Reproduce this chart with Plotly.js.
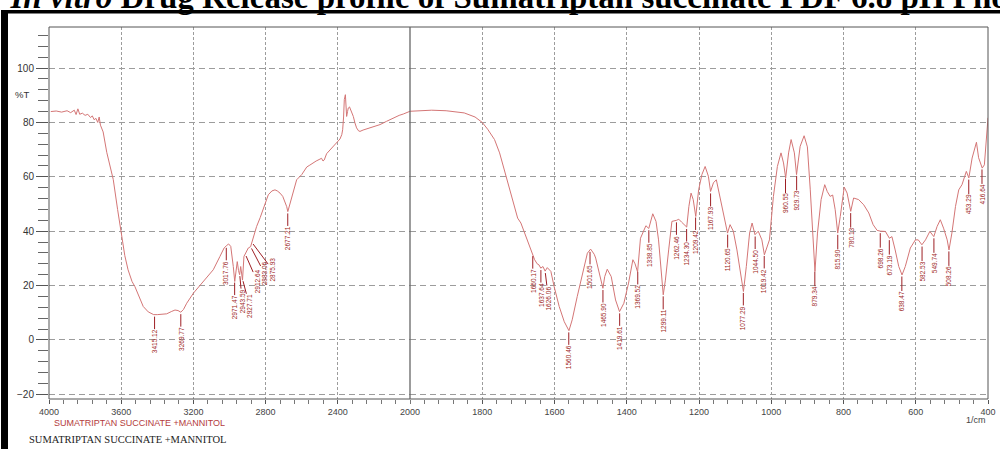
<!DOCTYPE html>
<html><head><meta charset="utf-8">
<script src="https://cdn.plot.ly/plotly-3.0.1.min.js"></script>
<style>html,body{margin:0;padding:0;background:#fff}#chart{width:1000px;height:449px}</style>
</head><body><div id="chart"></div>
<script>
// ---------- DATA ----------
const wavenumber = [
3990,3960,3930,3900,3880,3860,3850,3840,3830,3815,3800,3785,3770,3760,3750,3740,3730,3722,3715,3700,
3680,3660,3644,3620,3597,3580,3562,3540,3524,3500,3478,3450,3420,3400,3370,3348,3320,3302,3285,3270,
3255,3237,3200,3145,3090,3053,3030,3018,3005,2993,2985,2979,2971,2963,2957,2950,2944,2938,2933,2928,
2920,2913,2905,2896,2883,2877,2865,2850,2830,2813,2800,2785,2765,2748,2735,2720,2705,2693,2683,2677,
2670,2660,2645,2628,2600,2585,2572,2555,2536,2520,2499,2490,2482,2475,2462,2445,2425,2400,2388,2378,
2373,2368,2364,2358,2355,2351,2346,2342,2335,2325,2314,2305,2296,2285,2277,2260,2240,2200,2166,2130,
2092,2060,2037,2000,1972,1940,1900,1880,1850,1820,1800,1785,1766,1752,1734,1716,1702,1693,1679,1665,
1660,1655,1648,1643,1638,1632,1626,1620,1610,1601,1587,1573,1560,1551,1537,1523,1509,1500,1490,1486,
1477,1466,1461,1454,1443,1431,1420,1408,1395,1383,1377,1370,1362,1353,1347,1339,1328,1319,1312,1299,
1293,1284,1275,1262,1256,1248,1234,1228,1222,1216,1209,1201,1192,1183,1174,1168,1160,1152,1143,1132,
1121,1114,1105,1095,1086,1077,1069,1060,1053,1045,1036,1026,1019,1005,994,983,973,966,960,952,
945,936,930,920,909,900,892,885,879,872,862,852,845,837,830,823,816,809,798,790,
780,772,758,744,730,718,707,698,684,673,666,657,647,638,629,615,601,593,583,573,
561,550,541,532,523,513,508,500,490,481,472,460,453,444,432,426,416,410,403,400
];
const transmittance = [
84.0,84.2,83.8,84.3,83.6,84.5,82.9,85.0,83.0,83.4,82.6,83.0,81.8,82.4,81.0,81.5,80.0,82.0,79.0,76.5,
69.0,63.0,59.0,48.0,38.0,31.0,25.8,21.5,19.6,15.5,12.3,10.3,9.3,9.3,9.5,9.6,10.5,11.0,10.8,10.2,
11.2,13.5,17.2,21.5,25.8,30.7,33.8,34.6,35.3,34.4,31.0,27.0,21.5,25.0,28.8,25.5,24.0,27.0,23.5,22.0,
30.7,31.5,32.3,33.8,34.3,35.6,38.5,41.7,45.0,47.9,50.5,53.4,54.8,55.2,54.8,54.0,52.8,51.0,49.0,47.2,
49.0,51.5,55.5,58.9,60.8,62.3,63.6,64.3,65.3,65.8,66.5,66.8,65.8,66.2,68.5,69.7,71.2,73.0,73.9,75.5,
77.3,82.0,88.4,90.2,88.0,82.2,84.0,85.3,85.7,84.2,82.2,79.8,78.0,76.9,76.7,77.2,77.6,78.4,79.2,80.4,
81.7,82.6,83.1,84.1,84.4,84.5,84.3,84.0,83.5,82.0,80.0,77.5,73.7,68.8,60.2,51.6,44.8,43.0,38.0,33.1,
31.5,29.5,28.0,27.6,26.4,27.0,25.3,26.6,25.2,19.6,12.3,6.7,3.4,7.4,16.0,24.6,31.9,33.4,31.5,30.1,
24.6,19.0,23.3,26.0,23.3,14.7,10.4,13.5,20.9,29.5,28.0,25.0,37.4,39.9,42.0,41.0,46.4,43.6,36.8,16.6,
22.0,33.1,43.6,44.0,44.4,43.3,41.5,49.1,54.0,51.6,45.4,55.2,60.8,63.8,60.2,54.6,57.8,58.9,52.8,46.7,
39.3,42.4,40.0,33.1,24.6,17.8,27.0,39.3,43.0,38.7,40.0,36.8,31.3,36.8,52.8,63.8,68.8,65.1,59.6,68.8,
73.7,68.8,60.8,71.2,75.1,71.0,55.2,36.8,25.2,39.3,51.6,57.1,54.6,52.8,53.3,47.9,39.3,45.4,56.2,54.0,
47.3,52.2,51.6,49.7,46.7,42.4,40.3,40.0,39.9,37.4,38.0,33.1,27.0,23.9,27.0,33.8,36.8,36.8,35.0,36.8,
39.9,38.0,41.7,44.2,41.1,36.8,33.1,39.3,49.1,55.2,57.1,62.0,59.6,66.9,72.7,67.0,63.2,64.4,77.3,81.7
];
const peakLabels = [
"3415.12","3269.77","3017.76","2971.47","2943.59","2927.71","2912.64","2883.06","2875.93","2677.21",
"1660.17","1637.64","1626.06","1560.46","1501.65","1465.90","1419.61","1369.52","1338.85","1299.11",
"1262.46","1234.30","1209.42","1167.93","1120.65","1077.29","1044.50","1019.42","960.55","929.73",
"879.34","815.90","780.13","698.26","673.19","638.47","582.53","549.74","508.26","453.29","416.64"
];
const peakWavenumber = peakLabels.map(Number);
const xTicksHigh = [4000,3600,3200,2800,2400,2000];
const xTicksLow = [1800,1600,1400,1200,1000,800,600,400];
const yTicks = [-20,0,20,40,60,80,100];
const sampleName = "SUMATRIPTAN SUCCINATE +MANNITOL";
const yUnit = "%T";
const xUnit = "1/cm";
const figureTitle = "<b>7.4: <i>In vitro</i> Drug Release profile of Sumatriptan succinate PDF 6.8 pH Phosphate Buffer</b>";

// ---------- GEOMETRY / STYLE ----------
const W = 1000, H = 449;
const M = {l:49, r:12, t:27, b:50};
const PW = W - M.l - M.r, PH = H - M.t - M.b;
const SPLIT = 361 / PW;           // domain break at 2000 cm-1
const Y_RANGE = [-21.73, 115.1];
const curveColor = '#d47676';
const labelColor = '#9e1f24';
const gridColor = '#9c9c9c';
const frameColor = '#555555';

const px = v => M.l + v * PW;           // paper x -> pixel
const paperX = p => (p - M.l) / PW;     // pixel -> paper x
const paperY = p => (H - M.b - p) / PH; // pixel -> paper y

// split the spectrum at the scale change
const hiX = [], hiY = [], loX = [], loY = [];
wavenumber.forEach((w, i) => {
  if (w >= 2000) { hiX.push(w); hiY.push(transmittance[i]); }
  if (w <= 2000) { loX.push(w); loY.push(transmittance[i]); }
});

function curveAt(w) {
  for (let i = 0; i < wavenumber.length - 1; i++) {
    const a = wavenumber[i], b = wavenumber[i + 1];
    if (w <= a && w >= b) {
      const t = (a - w) / (a - b);
      return transmittance[i] + t * (transmittance[i + 1] - transmittance[i]);
    }
  }
  return transmittance[transmittance.length - 1];
}
function wnToPixel(w) {
  if (w >= 2000) return px(SPLIT * (4000 - w) / 2000);
  return px(SPLIT + (1 - SPLIT) * (2000 - w) / 1600);
}

const traces = [
  {x: hiX, y: hiY, xaxis: 'x', yaxis: 'y', type: 'scatter', mode: 'lines',
   line: {color: curveColor, width: 1}, hoverinfo: 'skip'},
  {x: loX, y: loY, xaxis: 'x2', yaxis: 'y', type: 'scatter', mode: 'lines',
   line: {color: curveColor, width: 1}, hoverinfo: 'skip'}
];

// peak labels, pushed apart horizontally when they would overlap
const order = peakWavenumber.map((w, i) => i).sort((a, b) => wnToPixel(peakWavenumber[a]) - wnToPixel(peakWavenumber[b]));
const shift = new Array(peakWavenumber.length).fill(0);
let last = -1e9;
order.forEach(i => {
  const p = wnToPixel(peakWavenumber[i]);
  const q = Math.max(p, last + 7.5);
  shift[i] = q - p;
  last = q;
});

const annotations = peakWavenumber.map((w, i) => ({
  x: w, xref: w >= 2000 ? 'x' : 'x2', y: curveAt(w), yref: 'y',
  text: peakLabels[i], textangle: -90, showarrow: true, arrowhead: 0,
  arrowwidth: 1, arrowcolor: labelColor, standoff: 2,
  ax: shift[i], ay: 27, borderpad: 0,
  font: {family: 'Liberation Sans, Arial', size: 6.5, color: labelColor}
}));

annotations.push(
  {xref: 'paper', yref: 'y', x: paperX(31), y: 90.2, xanchor: 'right', yanchor: 'middle',
   text: yUnit, showarrow: false, font: {family: 'Liberation Sans, Arial', size: 9.5, color: '#333'}},
  {xref: 'paper', yref: 'paper', x: 1, y: paperY(420), xanchor: 'right', yanchor: 'middle',
   text: xUnit, showarrow: false, font: {family: 'Liberation Sans, Arial', size: 9, color: '#444'}},
  {xref: 'paper', yref: 'paper', x: paperX(52), y: paperY(422.5), xanchor: 'left', yanchor: 'middle',
   text: sampleName, showarrow: false, font: {family: 'Liberation Sans, Arial', size: 9, color: '#b43c3c'}},
  {xref: 'paper', yref: 'paper', x: paperX(27), y: paperY(440), xanchor: 'left', yanchor: 'middle',
   text: sampleName, showarrow: false, font: {family: 'Liberation Serif, Times New Roman', size: 10.5, color: '#222'}},
  {xref: 'paper', yref: 'paper', x: paperX(-52), y: paperY(17), xanchor: 'left', yanchor: 'bottom',
   text: figureTitle, showarrow: false, font: {family: 'Liberation Serif, Times New Roman', size: 33, color: '#000'}}
);

const shapes = [
  {type: 'rect', xref: 'paper', yref: 'paper', x0: 0, x1: 1, y0: 0, y1: 1,
   line: {color: frameColor, width: 1}, layer: 'above'},
  {type: 'line', xref: 'paper', yref: 'paper', x0: SPLIT, x1: SPLIT, y0: 0, y1: 1,
   line: {color: '#666', width: 1.3}, layer: 'above'},
  {type: 'rect', xref: 'paper', yref: 'paper', x0: paperX(1), x1: paperX(1000), y0: paperY(13.5), y1: paperY(10),
   fillcolor: '#000', line: {width: 0}},
  {type: 'rect', xref: 'paper', yref: 'paper', x0: paperX(1), x1: paperX(8), y0: paperY(449), y1: paperY(10),
   fillcolor: '#000', line: {width: 0}}
];

const xCommon = {
  ticks: 'outside', ticklen: 4, tickcolor: '#555', tickwidth: 1,
  showgrid: true, gridcolor: gridColor, griddash: '3px,2px', gridwidth: 1,
  zeroline: false, showline: false, anchor: 'y', ticklabelstandoff: 0,
  tickfont: {family: 'Liberation Sans, Arial', size: 9, color: '#444'}
};

const layout = {
  width: W, height: H, margin: M, showlegend: false,
  paper_bgcolor: '#fff', plot_bgcolor: '#fff',
  xaxis: Object.assign({}, xCommon, {
    domain: [0, SPLIT], range: [4000, 2000], tickmode: 'array', tickvals: xTicksHigh,
    minor: {dtick: 80, tick0: 0, ticks: 'outside', ticklen: 4, tickcolor: '#777', showgrid: false}
  }),
  xaxis2: Object.assign({}, xCommon, {
    domain: [SPLIT, 1], range: [2000, 400], tickmode: 'array', tickvals: xTicksLow,
    minor: {dtick: 40, tick0: 0, ticks: 'outside', ticklen: 4, tickcolor: '#777', showgrid: false}
  }),
  yaxis: {
    range: Y_RANGE, tickmode: 'array', tickvals: yTicks, ticks: 'outside', ticklen: 12,
    tickcolor: '#555', showgrid: true, gridcolor: gridColor, griddash: '6px,4px', gridwidth: 1,
    zeroline: false, showline: false, anchor: 'x',
    minor: {dtick: 4, tick0: 0, ticks: 'outside', ticklen: 10, tickcolor: '#666', showgrid: false},
    tickfont: {family: 'Liberation Sans, Arial', size: 10, color: '#333'}
  },
  annotations: annotations,
  shapes: shapes
};

Plotly.newPlot('chart', traces, layout, {staticPlot: true, displayModeBar: false});
</script>
</body></html>
